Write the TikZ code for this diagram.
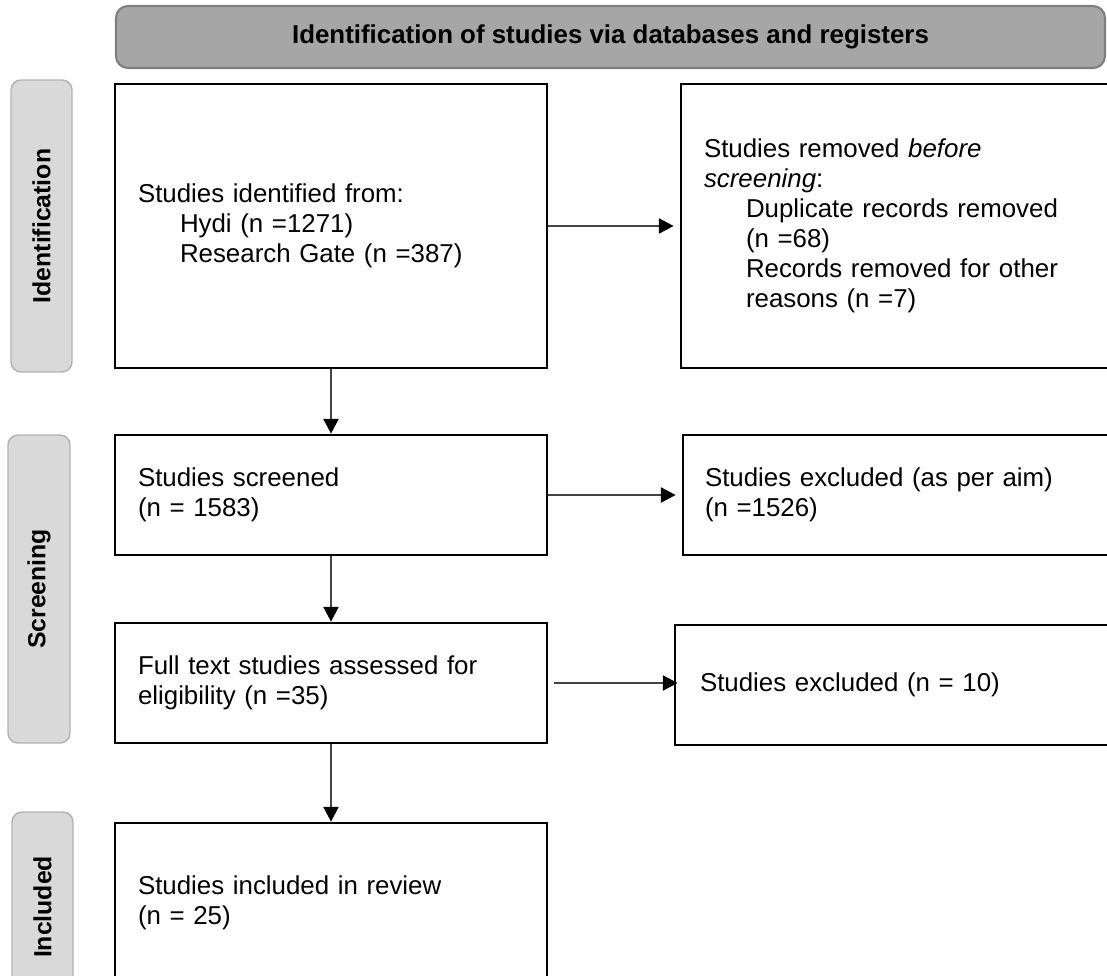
\documentclass[tikz,border=0pt]{standalone}
\usepackage{fontspec}
\setmainfont{Liberation Sans}
\usetikzlibrary{arrows.meta}
\definecolor{bannerfill}{HTML}{A6A6A6}
\definecolor{bannerdraw}{HTML}{7F7F7F}
\definecolor{labelfill}{HTML}{D9D9D9}
\definecolor{labeldraw}{HTML}{B3B3B3}
\definecolor{arrowcol}{HTML}{444444}
\newcommand{\ind}{\hspace*{31.5pt}}
\tikzset{
  bannerbox/.style={draw=bannerdraw, fill=bannerfill, line width=1.6pt, rounded corners=9pt,
    minimum width=741.75pt, minimum height=46.5pt, inner sep=0pt,
    font=\fontsize{19.4}{22.5}\selectfont\bfseries},
  sidelabel/.style={draw=labeldraw, fill=labelfill, line width=1.1pt, rounded corners=7.5pt,
    inner sep=0pt, font=\fontsize{18.6}{22}\selectfont\bfseries},
  flowbox/.style={draw=black, line width=2.2pt, inner ysep=0pt, align=left,
    font=\fontsize{19.4}{22.5}\selectfont},
  leftbox/.style={flowbox, minimum width=324pt, inner xsep=17.25pt, text width=289.5pt},
  arr/.style={draw=arrowcol, line width=0.8pt, -{Triangle[length=11pt,width=11.5pt,color=black,fill=black]}},
}
\begin{document}
\begin{tikzpicture}[x=0.75pt, y=-0.75pt]
\useasboundingbox (0,0) rectangle (1107,975);
\clip (0,0) rectangle (1107,975);
% banner
\node[bannerbox] (banner) at (610.5,37) {Identification of studies via databases and registers};
% side labels
\node[sidelabel, minimum width=45.75pt, minimum height=219pt] (lid) at (41.5,226) {\rotatebox{90}{Identification}};
\node[sidelabel, minimum width=46.5pt, minimum height=231pt] (lsc) at (39,589) {\rotatebox{90}{Screening}};
\node[sidelabel, minimum width=45.75pt, minimum height=142.5pt] (lin) at (42.5,907) {\rotatebox{90}{Included}};
% left column
\node[leftbox, minimum height=213pt] (b1) at (331,226) {Studies identified from:\\
\ind Hydi (n =1271)\\
\ind Research Gate (n =387)};
\node[leftbox, minimum height=90pt] (b3) at (331,495) {Studies screened\\(n = 1583)};
\node[leftbox, minimum height=90pt] (b5) at (331,683) {Full text studies assessed for\\eligibility (n =35)};
\node[leftbox, minimum height=120pt] (b7) at (331,903) {Studies included in review\\(n = 25)};
% right column
\node[flowbox, minimum width=337.5pt, minimum height=213pt, inner xsep=17.25pt, text width=303pt] (b2) at (906,226)
 {Studies removed \textit{before}\\
 \textit{screening}:\\
 \ind Duplicate records removed\\
 \ind (n =68)\\
 \ind Records removed for other\\
 \ind reasons (n =7)};
\node[flowbox, minimum width=336pt, minimum height=90pt, inner xsep=16.5pt, text width=303pt] (b4) at (907,495)
 {Studies excluded (as per aim)\\(n =1526)};
\node[flowbox, minimum width=342pt, minimum height=90pt, inner xsep=18.75pt, text width=304.5pt] (b6) at (903,685)
 {Studies excluded (n = 10)};
% connectors
\draw[arr, shorten >=4.5pt] (b1.east) -- (b1.east -| b2.west);
\draw[arr, shorten >=4.5pt] (b3.east) -- (b3.east -| b4.west);
\draw[arr, shorten <=4.5pt, shorten >=-3pt] (b5.east) -- (b5.east -| b6.west);
\draw[arr] (b1.south) -- (b3.north);
\draw[arr] (b3.south) -- (b5.north);
\draw[arr] (b5.south) -- (b7.north);
\end{tikzpicture}
\end{document}
